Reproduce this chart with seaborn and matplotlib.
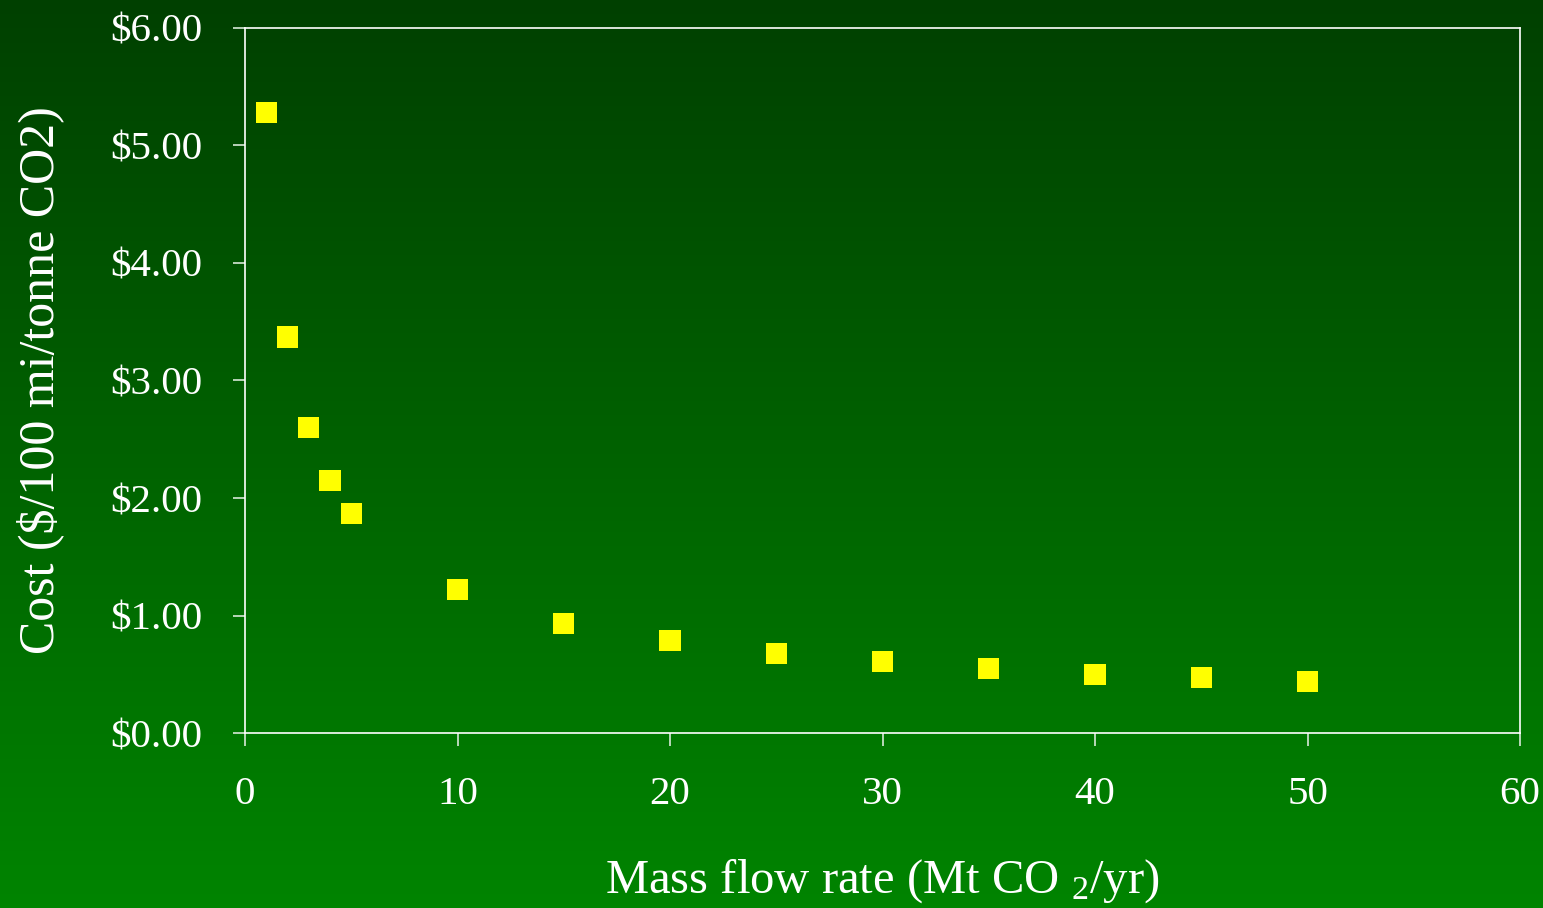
import numpy as np
import pandas as pd
import matplotlib
matplotlib.use('Agg')
import matplotlib.pyplot as plt
import seaborn as sns
from matplotlib.colors import LinearSegmentedColormap
from matplotlib.ticker import FuncFormatter

# Dữ liệu
mass_flow = [1, 2, 3, 4, 5, 10, 15, 20, 25, 30, 35, 40, 45, 50]
cost = [5.28, 3.37, 2.60, 2.15, 1.87, 1.22, 0.93, 0.79, 0.68, 0.61, 0.55, 0.50, 0.47, 0.44]

df = pd.DataFrame({'mass_flow': mass_flow, 'cost': cost})

sns.set_style('white')
plt.rcParams['font.family'] = ['Liberation Serif', 'DejaVu Serif']
plt.rcParams['mathtext.fontset'] = 'custom'
plt.rcParams['mathtext.rm'] = 'Liberation Serif'
plt.rcParams['mathtext.it'] = 'Liberation Serif'

fig = plt.figure(figsize=(15.43, 9.08), dpi=100)

# Nền gradient xanh lá (tối ở trên, sáng ở dưới)
bg = fig.add_axes([0, 0, 1, 1], zorder=-10)
grad = np.linspace(0, 1, 256).reshape(-1, 1)
cmap = LinearSegmentedColormap.from_list('bg', ['#004000', '#008400'])
bg.imshow(grad, aspect='auto', cmap=cmap, extent=[0, 1, 0, 1], origin='upper')
bg.axis('off')

ax = fig.add_axes([0.1588, 0.1927, 0.8263, 0.7765])
ax.patch.set_alpha(0)

sns.scatterplot(data=df, x='mass_flow', y='cost', marker='s', s=230,
                color='#ffff00', edgecolor='none', linewidth=0, ax=ax, zorder=3)

ax.set_xlim(0, 60)
ax.set_ylim(0, 6)
ax.set_xticks(range(0, 61, 10))
ax.set_yticks(range(0, 7))
ax.yaxis.set_major_formatter(FuncFormatter(lambda v, p: f'${v:.2f}'))

for sp in ax.spines.values():
    sp.set_color('white')
    sp.set_linewidth(1.2)
    sp.set_visible(True)

ax.tick_params(axis='both', bottom=True, left=True, colors='#d8e8d8', labelcolor='white',
               labelsize=29.5, direction='out', length=9, width=1.2)
ax.tick_params(axis='y', pad=22)
ax.tick_params(axis='x', pad=22)

ax.set_xlabel('Mass flow rate (Mt CO $_2$/yr)', color='white', fontsize=35, labelpad=32)
ax.set_ylabel('Cost ($/100 mi/tonne CO2)', color='white', fontsize=36, labelpad=33)

fig.savefig('out.png', dpi=100)
